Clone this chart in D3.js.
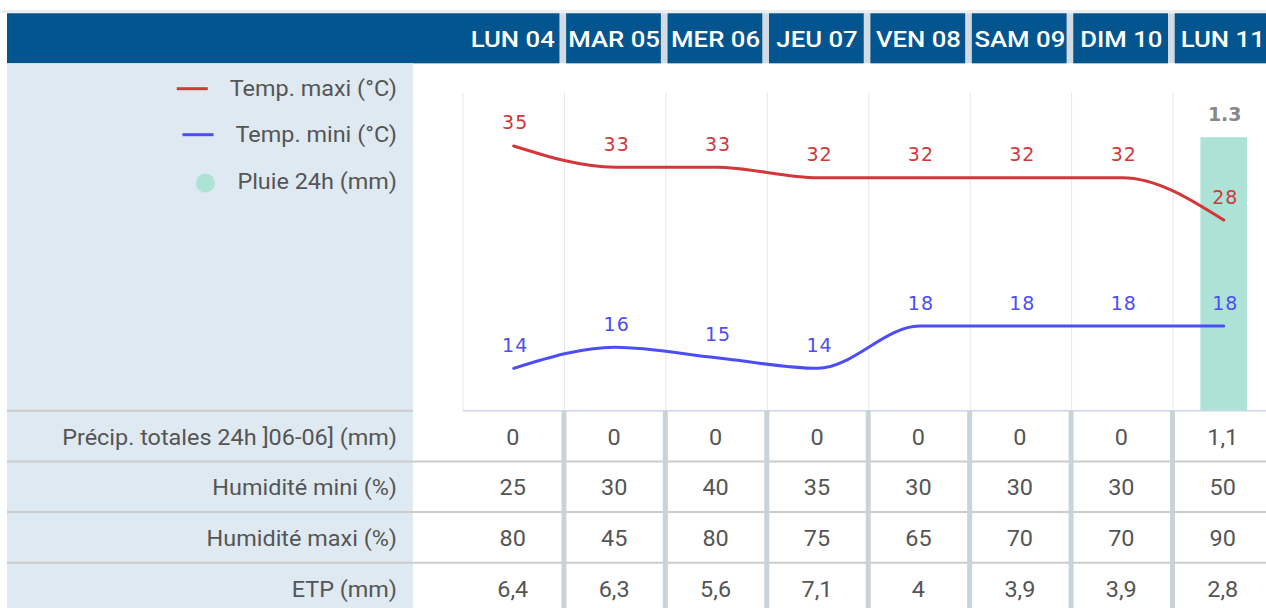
<!DOCTYPE html>
<html><head><meta charset="utf-8">
<script src="https://cdn.jsdelivr.net/npm/d3@7"></script>
<style>html,body{margin:0;padding:0;background:#fff;overflow:hidden}svg{display:block}</style>
</head><body><svg id="c" width="1266" height="608"></svg>
<script>
// ---- data ----
const days = ["LUN 04","MAR 05","MER 06","JEU 07","VEN 08","SAM 09","DIM 10","LUN 11"];
const tempMax = [35,33,33,32,32,32,32,28];
const tempMin = [14,16,15,14,18,18,18,18];
const rain24 = [0,0,0,0,0,0,0,1.3];
const legendLabels = ["Temp. maxi (°C)","Temp. mini (°C)","Pluie 24h (mm)"];
const rowLabels = ["Précip. totales 24h ]06-06] (mm)","Humidité mini (%)","Humidité maxi (%)","ETP (mm)"];
const precipTot = [0,0,0,0,0,0,0,1.1];
const humMin = [25,30,40,35,30,30,30,50];
const humMax = [80,45,80,75,65,70,70,90];
const etp = [6.4,6.3,5.6,7.1,4,3.9,3.9,2.8];
const tempDomain = [10,40];
const rainDomain = [0,1.51];

// ---- style ----
const C = {blue:"#02558f", gap:"#d3dbe2", side:"#dfe9f2", red:"#d2383a", mini:"#4d4df8",
           rain:"#ade3d6", grid:"#e6e6e6", axis:"#ccd6eb", text:"#555555", hline:"#cccccc", vsep:"#c9d3da"};
const svg = d3.select("#c");
const W = 1266, H = 608;
const plotL = 463, step = 101.43, plotTop = 93, plotBot = 410.7;
const sideL = 7, sideR = 413, labelR = 397;
const headTop = 13.3, headBot = 63.3;
const SX = 1.065, HSX = 1.12;

const x = d3.scaleBand().domain(days).range([plotL, plotL + step*days.length]).padding(0);
const cx = d => x(d) + x.bandwidth()/2;
const yT = d3.scaleLinear().domain(tempDomain).range([plotBot, plotTop]);
const yR = d3.scaleLinear().domain(rainDomain).range([plotBot, plotTop]);
const edges = days.map(d => x(d)).concat([x.range()[1]]);

function stext(px, py, sx, str, anchor, fill, size, weight){
  return svg.append("text").attr("transform",`translate(${px},${py}) scale(${sx},1)`)
    .attr("dy","0.36em").attr("text-anchor",anchor).attr("fill",fill)
    .style("font-family","Roboto").style("font-size",size+"px").style("font-weight",weight||400)
    .text(str);
}

// top faint band
svg.append("rect").attr("x",0).attr("y",10).attr("width",W).attr("height",3.3).attr("fill","#eceff2");
// header
svg.append("rect").attr("x",sideL).attr("y",headTop).attr("width",W-sideL).attr("height",headBot-headTop).attr("fill",C.gap);
svg.append("g").selectAll("rect").data(days).join("rect")
  .attr("x",(d,i)=> i===0 ? sideL : edges[i]+1.7)
  .attr("y",headTop)
  .attr("width",(d,i)=> (edges[i+1]-5) - (i===0 ? sideL : edges[i]+1.7))
  .attr("height",headBot-headTop).attr("fill",C.blue);
days.forEach(d=> stext(cx(d)-1, (headTop+headBot)/2, HSX, d, "middle", "#fff", 23, 500));

// side column
svg.append("rect").attr("x",sideL).attr("y",headBot).attr("width",sideR-sideL).attr("height",H-headBot).attr("fill",C.side);

// grid
svg.append("g").selectAll("line").data(edges).join("line")
  .attr("x1",d=>d).attr("x2",d=>d).attr("y1",plotTop).attr("y2",plotBot)
  .attr("stroke",C.grid).attr("stroke-width",1);

// rain bars
const barW = x.bandwidth()*0.46;
const rainData = days.map((d,i)=>({d, v:rain24[i]})).filter(o=>o.v>0);
svg.append("g").selectAll("rect").data(rainData).join("rect")
  .attr("x",o=>cx(o.d)-barW/2).attr("width",barW)
  .attr("y",o=>yR(o.v)).attr("height",o=>plotBot-yR(o.v)).attr("fill",C.rain);
svg.append("g").selectAll("text").data(rainData).join("text")
  .attr("x",o=>cx(o.d)+1).attr("y",o=>yR(o.v)-23).attr("dy","0.36em").attr("text-anchor","middle")
  .attr("fill","#888").style("font-family","DejaVu Sans").style("font-weight","bold").style("font-size","19px")
  .text(o=>String(o.v));

// x axis line
svg.append("line").attr("x1",plotL).attr("x2",W).attr("y1",plotBot).attr("y2",plotBot).attr("stroke",C.axis).attr("stroke-width",1.5);

// lines
function series(vals, color){
  const pts = days.map((d,i)=>({d, v:vals[i]}));
  const line = d3.line().x(p=>cx(p.d)).y(p=>yT(p.v)).curve(d3.curveMonotoneX);
  svg.append("path").datum(pts).attr("d",line).attr("fill","none").attr("stroke",color)
    .attr("stroke-width",3).attr("stroke-linecap","round");
  svg.append("g").selectAll("text").data(pts).join("text")
    .attr("x",p=>cx(p.d)+1.5).attr("y",p=>yT(p.v)-23.3).attr("dy","0.36em").attr("text-anchor","middle")
    .attr("fill",color).style("font-family","DejaVu Sans").style("font-size","19px").style("letter-spacing","1px")
    .text(p=>p.v);
}
series(tempMax, C.red);
series(tempMin, C.mini);

// legend
const legY = [88, 134, 181];
const legColors = [C.red, C.mini, C.rain];
legendLabels.forEach((lab,i)=>{
  const t = stext(labelR, legY[i], SX, lab, "end", C.text, 22);
  const start = labelR - t.node().getComputedTextLength()*SX;
  if(i<2){
    svg.append("line").attr("x1",start-53).attr("x2",start-22).attr("y1",legY[i]+0.7).attr("y2",legY[i]+0.7)
      .attr("stroke",legColors[i]).attr("stroke-width",3);
  } else {
    svg.append("circle").attr("cx",start-32).attr("cy",legY[i]+2).attr("r",9.5).attr("fill",legColors[i]);
  }
});

// table
const rowTop = plotBot, rowH = 50.7;
const fmt = v => String(v).replace(".",",");
const rows = [precipTot, humMin, humMax, etp];
svg.append("line").attr("x1",sideL).attr("x2",sideR).attr("y1",rowTop).attr("y2",rowTop).attr("stroke",C.hline).attr("stroke-width",2);
[1,2,3].forEach(k=>{
  svg.append("line").attr("x1",sideL).attr("x2",W).attr("y1",rowTop+k*rowH).attr("y2",rowTop+k*rowH)
    .attr("stroke",C.hline).attr("stroke-width",2);
});
svg.append("g").selectAll("rect").data(edges.slice(1,days.length)).join("rect")
  .attr("x",d=>d-3).attr("width",5).attr("y",rowTop).attr("height",H-rowTop).attr("fill",C.vsep);
rows.forEach((vals,r)=>{
  const yc = rowTop + r*rowH + rowH/2 + 0.8;
  stext(labelR, yc, SX, rowLabels[r], "end", C.text, 22);
  days.forEach((d,i)=> stext(cx(d)-1, yc, SX, fmt(vals[i]), "middle", C.text, 22));
});
</script></body></html>
